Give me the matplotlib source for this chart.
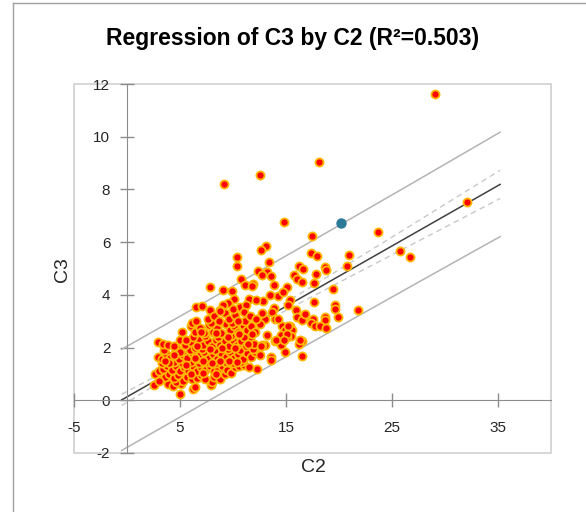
import numpy as np
import matplotlib.pyplot as plt
from matplotlib.lines import Line2D
from matplotlib.patches import Rectangle

plt.rcParams['font.family'] = ['Liberation Sans', 'DejaVu Sans']
plt.rcParams['axes.unicode_minus'] = False

c2 = [29.1, 18.1, 12.55, 9.15, 32.1, 14.84, 23.65, 17.48, 13.14, 12.64,
      25.75, 20.97, 26.7, 17.33, 17.96, 10.35, 10.35, 13.36, 20.72, 16.23,
      16.6, 18.7, 18.8, 12.33, 13.2, 12.7, 17.86, 15.8, 13.6, 16.0,
      10.8, 16.5, 17.6, 11.86, 11.16, 11.8, 7.83, 9.03, 19.47, 13.84,
      14.25, 15.1, 14.75, 9.9, 11.5, 12.8, 15.4, 17.6, 10.1, 9.56,
      9.1, 13.9, 15.2, 19.65, 19.65, 21.8, 6.5, 7.1, 7.8, 8.77,
      10.66, 11.2, 15.9, 16.07, 16.67, 18.7, 19.87, 18.66, 17.5, 16.5,
      17.33, 17.77, 18.18, 18.8, 15.38, 14.65, 14.94, 15.54, 15.5, 15.07,
      14.53, 13.2, 13.96, 14.5, 16.5, 16.2, 13.05, 14.87, 16.54, 13.6,
      13.6, 12.3, 12.17, 13.49, 16.76, 13.65, 13.02, 13.96, 14.28, 15.22,
      15.06, 14.02, 14.84, 16.32, 12.33, 12.7,
      # dense cluster
      5.0, 2.55, 3.9, 4.3, 6.2, 6.4, 7.9, 5.1, 4.6, 8.0,
      2.6, 3.2, 3.6, 4.0, 4.4, 4.8, 5.3, 5.7, 6.1, 6.6,
      7.0, 7.4, 8.2, 8.77, 9.2, 3.0,
      3.0, 3.4, 3.8, 4.2, 4.6, 5.0, 5.4, 5.8, 6.2, 6.6,
      7.0, 7.4, 7.8, 8.2, 8.6, 9.0, 9.4, 9.8, 10.2, 10.6,
      11.0, 11.5, 3.3, 4.4, 5.2, 6.0, 6.8, 7.6, 8.4, 9.2,
      10.0, 10.8,
      2.9, 3.3, 3.7, 4.1, 4.5, 4.9, 5.3, 5.7, 6.1, 6.5,
      6.9, 7.3, 7.7, 8.1, 8.5, 8.9, 9.3, 9.7, 10.1, 10.5,
      10.9, 11.3, 11.7, 12.1, 12.5, 3.5, 4.7, 5.9, 7.1, 8.3,
      9.5, 10.7, 11.9,
      2.9, 3.4, 3.9, 4.4, 5.0, 5.5, 6.0, 6.4, 6.8, 7.2,
      7.6, 8.0, 8.4, 8.8, 9.2, 9.6, 10.0, 10.4, 10.8, 11.2,
      11.6, 12.0, 12.6, 6.2, 7.4, 8.6, 9.8, 11.0,
      5.2, 6.0, 6.4, 6.9, 7.3, 7.7, 8.1, 8.5, 8.9, 9.3,
      9.7, 10.1, 10.5, 10.9, 11.3, 11.7, 12.1, 12.5, 7.9, 9.9,
      11.1,
      6.1, 6.5, 7.6, 8.2, 8.7, 9.2, 9.6, 10.2, 10.5, 11.0,
      11.6, 12.2, 12.7, 8.8, 10.0,
      4.0, 5.6, 6.4, 7.2, 8.0, 8.8, 9.6, 10.4, 5.0, 6.6,
      7.8, 9.0, 10.2, 11.4, 7.0, 8.4, 9.5, 10.6, 11.8, 5.6,
      4.4, 3.6, 6.0, 7.2, 8.4]

c3 = [11.62, 9.04, 8.54, 8.2, 7.52, 6.75, 6.39, 6.22, 5.87, 5.72,
      5.67, 5.53, 5.43, 5.58, 5.48, 5.43, 5.09, 5.24, 5.09, 5.11,
      4.99, 5.04, 4.96, 4.9, 4.86, 4.75, 4.8, 4.76, 4.7, 4.6,
      4.6, 4.5, 4.46, 4.43, 4.38, 4.33, 4.3, 4.2, 4.21, 4.38,
      3.95, 4.3, 4.11, 4.14, 3.86, 3.76, 3.8, 3.73, 3.85, 3.71,
      3.6, 3.5, 3.6, 3.6, 3.47, 3.44, 3.53, 3.58, 3.44, 3.44,
      3.54, 3.61, 3.44, 3.16, 3.16, 3.16, 3.16, 3.06, 3.09, 3.04,
      2.94, 2.82, 2.82, 2.76, 2.82, 2.82, 2.66, 2.66, 2.43, 2.4,
      2.47, 2.46, 2.24, 2.11, 2.25, 2.15, 2.09, 1.82, 1.68, 1.65,
      1.54, 1.2, 3.8, 3.99, 3.29, 3.36, 3.1, 3.1, 3.1, 2.81,
      2.51, 2.28, 2.3, 2.28, 1.78, 2.1,
      # dense cluster
      0.23, 0.58, 0.6, 0.55, 0.44, 0.5, 0.58, 0.6, 0.7, 0.7,
      0.99, 0.8, 0.9, 1.0, 0.85, 0.95, 0.75, 0.9, 0.8, 0.85,
      0.95, 0.8, 0.9, 0.8, 1.0, 0.75,
      1.1, 1.2, 1.3, 1.15, 1.3, 1.1, 1.25, 1.15, 1.3, 1.1,
      1.25, 1.15, 1.3, 1.1, 1.2, 1.3, 1.15, 1.05, 1.25, 1.3,
      1.35, 1.25, 1.4, 1.45, 1.4, 1.45, 1.4, 1.45, 1.4, 1.45,
      1.4, 1.45,
      1.65, 1.55, 1.75, 1.6, 1.8, 1.55, 1.7, 1.6, 1.8, 1.55,
      1.7, 1.85, 1.6, 1.75, 1.55, 1.8, 1.65, 1.85, 1.6, 1.75,
      1.55, 1.8, 1.65, 1.85, 1.7, 1.9, 1.95, 1.9, 1.95, 1.9,
      1.95, 1.9, 1.95,
      2.2, 2.15, 2.1, 2.05, 2.3, 2.1, 2.2, 2.0, 2.3, 2.1,
      2.25, 2.05, 2.3, 2.1, 2.25, 2.05, 2.3, 2.1, 2.25, 2.05,
      2.3, 2.15, 2.05, 2.4, 2.45, 2.4, 2.45, 2.4,
      2.6, 2.8, 2.6, 2.75, 2.55, 2.85, 2.6, 2.75, 2.55, 2.9,
      2.65, 2.8, 2.6, 2.85, 2.65, 2.8, 2.6, 2.9, 2.95, 2.95,
      3.0,
      2.95, 3.0, 3.1, 3.2, 3.0, 3.3, 3.1, 3.25, 3.0, 3.35,
      3.2, 3.1, 3.3, 3.4, 3.45,
      1.4, 1.35, 1.6, 1.5, 1.4, 1.5, 1.5, 1.45, 1.85, 2.05,
      1.95, 2.0, 2.0, 2.15, 2.6, 2.55, 2.4, 2.5, 2.5, 2.3,
      1.7, 1.5, 1.0, 1.05, 1.0]

# highlighted observation
c2_sel = [20.2]
c3_sel = [6.73]

# fitted model values
b0 = 0.13
b1 = 0.229
s_res = 0.97
n_obs = 400
x_mean = 9.0
sxx = 8950.0
t_val = 1.966
x_lo, x_hi = -0.5, 35.2

xf = np.linspace(x_lo, x_hi, 200)
yf = b0 + b1 * xf
se_mean = s_res * np.sqrt(1.0 / n_obs + (xf - x_mean) ** 2 / sxx)
se_pred = s_res * np.sqrt(1.0 + 1.0 / n_obs + (xf - x_mean) ** 2 / sxx)

fig = plt.figure(figsize=(5.86, 5.12), dpi=100)
ax = fig.add_axes([74 / 586, 59 / 512, 477 / 586, 369 / 512])

ax.plot(xf, yf + t_val * se_pred, color='#B4B4B4', lw=1.1, zorder=2)
ax.plot(xf, yf - t_val * se_pred, color='#B4B4B4', lw=1.1, zorder=2)
ax.plot(xf, yf + t_val * se_mean, color='#C8C8C8', lw=1, ls=(0, (4, 3)), zorder=2)
ax.plot(xf, yf - t_val * se_mean, color='#C8C8C8', lw=1, ls=(0, (4, 3)), zorder=2)
ax.plot(xf, yf, color='#404040', lw=1.1, zorder=2)

ax.scatter(c2, c3, s=34, color='#FF0000', edgecolors='#FFB800', linewidths=1.3, zorder=3)
ax.scatter(c2_sel, c3_sel, s=42, color='#2C7A98', edgecolors='#2C7A98', linewidths=1, zorder=4)

ax.set_xlim(-5, 40)
ax.set_ylim(-2, 12)
ax.set_xticks([-5, 5, 15, 25, 35])
ax.set_yticks(range(-2, 13, 2))

ax.spines['left'].set_position(('data', 0))
ax.spines['bottom'].set_position(('data', 0))
ax.spines['right'].set_visible(False)
ax.spines['top'].set_visible(False)
for side in ['left', 'bottom']:
    ax.spines[side].set_color('#8C8C8C')
ax.tick_params(direction='inout', length=10, width=1, color='#8C8C8C',
               labelsize=11, labelcolor='#262626')
ax.tick_params(axis='y', pad=7)
ax.tick_params(axis='x', pad=10)

ax.add_patch(Rectangle((0, 0), 1, 1, transform=ax.transAxes, fill=False,
                       edgecolor='#D0D0D0', lw=1.2, clip_on=False, zorder=0))

fig.text(0.5, 1 - 39 / 512, 'Regression of C3 by C2 (R²=0.503)', ha='center',
         va='center', fontsize=16.5, fontweight='bold')
fig.text(313 / 586, 1 - 468 / 512, 'C2', ha='center', va='center', fontsize=14,
         color='#262626')
fig.text(62 / 586, 1 - 270 / 512, 'C3', ha='center', va='center', fontsize=14,
         rotation=90, color='#262626')

# outer chart border (left and top edges visible)
fig.add_artist(Line2D([13 / 586, 13 / 586], [0, 1 - 3 / 512], color='#A0A0A0', lw=1))
fig.add_artist(Line2D([13 / 586, 1], [1 - 3 / 512, 1 - 3 / 512], color='#A0A0A0', lw=1))

fig.savefig('out.png', dpi=100)
